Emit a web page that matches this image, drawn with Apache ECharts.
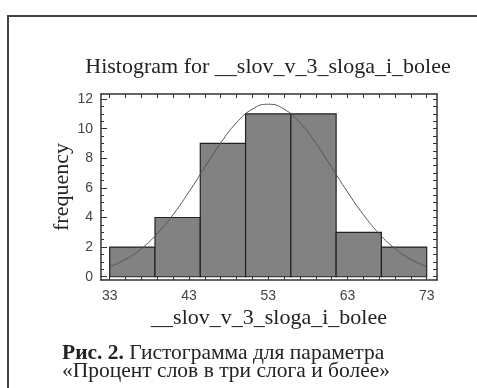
<!DOCTYPE html>
<html>
<head>
<meta charset="utf-8">
<script src="https://cdn.jsdelivr.net/npm/echarts@6/dist/echarts.min.js"></script>
<style>
html,body{margin:0;padding:0;background:#fff;}
#c{width:477px;height:388px;}
</style>
</head>
<body>
<div id="c"></div>
<script>
// ---- data ----
var binEdges = [33, 38.714, 44.429, 50.143, 55.857, 61.571, 67.286, 73];
var counts = [2, 4, 9, 11, 11, 3, 2];
var curveX = [33,35,37,39,41,43,45,47,49,51,53,55,57,59,61,63,65,67,69,71,73];
var curveY = [0.68,1.17,1.90,2.91,4.20,5.73,7.40,9.03,10.40,11.32,11.65,11.32,10.40,9.03,7.40,5.73,4.20,2.91,1.90,1.17,0.68];
var xMajorTicks = [33, 43, 53, 63, 73];
var xMinorTicks = [35,37,39,41,45,47,49,51,55,57,59,61,65,67,69,71];
var yMajorTicks = [0, 2, 4, 6, 8, 10, 12];
var yMinorTicks = [0.5,1,1.5,2.5,3,3.5,4.5,5,5.5,6.5,7,7.5,8.5,9,9.5,10.5,11,11.5];
var titleText = 'Histogram for __slov_v_3_sloga_i_bolee';
var xName = '__slov_v_3_sloga_i_bolee';
var yName = 'frequency';
var captionBold = 'Рис. 2.';
var captionRest1 = ' Гистограмма для параметра';
var captionLine2 = '«Процент слов в три слога и более»';

var bins = [];
for (var i = 0; i < counts.length; i++) bins.push([binEdges[i], binEdges[i + 1], counts[i]]);
var curve = curveX.map(function (x, i) { return [x, curveY[i]]; });

var XMIN = 31.9, XMAX = 74.3, YMIN = -0.22, YMAX = 12.34;
var AX = '#333';
var serif = '"Liberation Serif","DejaVu Serif",serif';

function xAx(pos, ticks, len, showLine, showLabel) {
  return {
    type: 'value', min: XMIN, max: XMAX, position: pos,
    axisLine: {show: showLine, onZero: false, lineStyle: {color: AX, width: 1.5}},
    axisTick: {show: true, inside: true, length: len, customValues: ticks, lineStyle: {color: AX, width: 1}},
    axisLabel: showLabel ? {show: true, customValues: ticks, margin: 9, color: '#444', fontSize: 14, fontFamily: '"Liberation Sans",Arial,sans-serif'} : {show: false},
    splitLine: {show: false}
  };
}
function yAx(pos, ticks, len, showLine, showLabel) {
  return {
    type: 'value', min: YMIN, max: YMAX, position: pos,
    axisLine: {show: showLine, onZero: false, lineStyle: {color: AX, width: 1.5}},
    axisTick: {show: true, inside: true, length: len, customValues: ticks, lineStyle: {color: AX, width: 1}},
    axisLabel: showLabel ? {show: true, customValues: ticks, margin: 8, color: '#444', fontSize: 14, fontFamily: '"Liberation Sans",Arial,sans-serif'} : {show: false},
    splitLine: {show: false}
  };
}

var xAxes = [
  xAx('bottom', xMajorTicks, 6, true, true),
  xAx('bottom', xMinorTicks, 3, false, false),
  xAx('top', xMajorTicks.concat(xMinorTicks), 4, true, false)
];
xAxes[0].name = xName;
xAxes[0].nameLocation = 'middle';
xAxes[0].nameGap = 27;
xAxes[0].nameMoveOverlap = false;
xAxes[0].nameTextStyle = {fontFamily: serif, fontSize: 22, color: '#222'};

var yAxes = [
  yAx('left', yMajorTicks, 6, true, true),
  yAx('left', yMinorTicks, 3, false, false),
  yAx('right', yMajorTicks.concat(yMinorTicks), 4, true, false)
];
yAxes[0].name = yName;
yAxes[0].nameLocation = 'middle';
yAxes[0].nameRotate = 90;
yAxes[0].nameGap = 28;
yAxes[0].nameMoveOverlap = false;
yAxes[0].nameTextStyle = {fontFamily: serif, fontSize: 22, color: '#222'};

var chart = echarts.init(document.getElementById('c'), null, {renderer: 'canvas'});
chart.setOption({
  animation: false,
  backgroundColor: '#fff',
  title: {
    text: titleText, left: 263, top: 51, textAlign: 'center',
    textStyle: {fontFamily: serif, fontSize: 22, fontWeight: 'normal', color: '#222'}
  },
  grid: {left: 101, top: 94, right: 40, bottom: 108, containLabel: false},
  xAxis: xAxes,
  yAxis: yAxes,
  series: [
    {
      type: 'custom', xAxisIndex: 0, yAxisIndex: 0, z: 2,
      data: bins,
      encode: {x: [0, 1], y: 2},
      renderItem: function (params, api) {
        var p0 = api.coord([api.value(0), 0]);
        var p1 = api.coord([api.value(1), api.value(2)]);
        return {
          type: 'rect',
          shape: {x: p0[0], y: p1[1], width: p1[0] - p0[0], height: p0[1] - p1[1]},
          style: {fill: '#828282', stroke: '#222', lineWidth: 1.2}
        };
      }
    },
    {
      type: 'line', xAxisIndex: 0, yAxisIndex: 0, z: 5,
      data: curve, smooth: true, symbol: 'none',
      lineStyle: {color: '#555', width: 1}
    }
  ],
  graphic: [
    {type: 'line', shape: {x1: 7, y1: 16, x2: 477, y2: 16}, style: {stroke: '#444', lineWidth: 2}},
    {type: 'line', shape: {x1: 8, y1: 15, x2: 8, y2: 388}, style: {stroke: '#444', lineWidth: 2}},
    {
      type: 'text', left: 62, top: 342,
      style: {
        text: '{b|' + captionBold + '}{n|' + captionRest1 + '}\n{n|' + captionLine2 + '}',
        rich: {
          b: {fontFamily: serif, fontSize: 21.5, fontWeight: 'bold', fill: '#222', lineHeight: 18.5},
          n: {fontFamily: serif, fontSize: 21.5, fill: '#222', lineHeight: 18.5}
        }
      }
    }
  ]
});
</script>
</body>
</html>
